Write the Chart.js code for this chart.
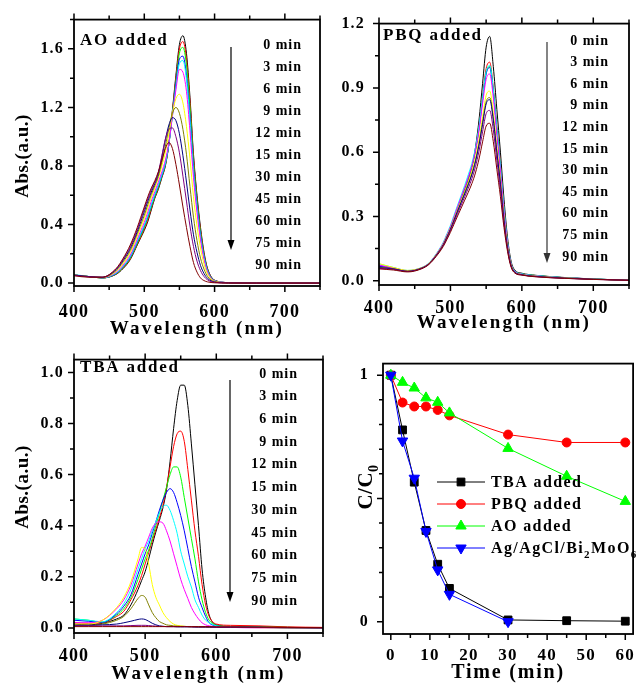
<!DOCTYPE html>
<html>
<head>
<meta charset="utf-8">
<script src="https://cdn.jsdelivr.net/npm/chart.js@4.4.0/dist/chart.umd.min.js"></script>
<style>
  html, body { margin: 0; padding: 0; background: #fff; }
  body { width: 639px; height: 683px; overflow: hidden; position: relative; }
  .panel { position: absolute; }
</style>
</head>
<body>
<div class="panel" style="left:0;top:0;width:336px;height:340px"><canvas id="aoChart"></canvas></div>
<div class="panel" style="left:336px;top:0;width:306px;height:340px"><canvas id="pbqChart"></canvas></div>
<div class="panel" style="left:0;top:340px;width:336px;height:343px"><canvas id="tbaChart"></canvas></div>
<div class="panel" style="left:336px;top:340px;width:309px;height:343px"><canvas id="kinChart"></canvas></div>
<script>
// wavelength grid (nm) shared by all spectra
const wavelengths = [400,420,440,460,470,480,490,495,500,505,510,515,520,525,530,535,540,545,550,555,560,565,570,575,580,585,590,600,620,660,700,750];
const timeLabels = ["0 min","3 min","6 min","9 min","12 min","15 min","30 min","45 min","60 min","75 min","90 min"];

// AO added, one row per irradiation time
const aoSpectra = [
  [.055,.045,.035,.060,.100,.160,.260,.310,.360,.420,.500,.580,.640,.720,.800,.950,1.18,1.42,1.63,1.69,1.57,1.27,.880,.600,.380,.210,.100,.020,.003,0,0,0],
  [.055,.045,.035,.062,.104,.165,.265,.315,.370,.430,.510,.585,.650,.725,.805,.950,1.17,1.40,1.60,1.65,1.53,1.24,.860,.580,.360,.200,.095,.020,.003,0,0,0],
  [.055,.045,.035,.064,.108,.170,.272,.325,.380,.445,.520,.590,.655,.730,.810,.950,1.16,1.38,1.57,1.61,1.49,1.20,.830,.560,.345,.190,.090,.018,.003,0,0,0],
  [.055,.045,.036,.066,.112,.176,.280,.335,.390,.455,.530,.600,.665,.735,.815,.950,1.15,1.36,1.53,1.55,1.42,1.14,.790,.530,.325,.180,.085,.017,.003,0,0,0],
  [.058,.046,.036,.068,.115,.180,.285,.340,.395,.460,.535,.605,.670,.740,.820,.950,1.14,1.34,1.50,1.52,1.39,1.11,.770,.515,.315,.175,.082,.016,.003,0,0,0],
  [.055,.045,.037,.074,.124,.192,.300,.358,.415,.485,.560,.625,.690,.760,.840,.960,1.14,1.32,1.46,1.44,1.31,1.04,.720,.480,.295,.160,.075,.015,.003,0,0,0],
  [.055,.045,.038,.080,.134,.208,.320,.380,.440,.515,.585,.650,.715,.800,.895,1.02,1.16,1.26,1.29,1.23,1.07,.850,.590,.390,.240,.130,.062,.013,.002,0,0,0],
  [.055,.045,.039,.086,.145,.222,.337,.400,.462,.537,.605,.665,.730,.825,.935,1.06,1.16,1.20,1.16,1.05,.880,.660,.450,.290,.170,.095,.045,.010,.002,0,0,0],
  [.055,.045,.040,.092,.155,.236,.352,.420,.487,.560,.622,.680,.748,.860,.980,1.08,1.13,1.11,1.02,.870,.690,.500,.330,.210,.120,.065,.032,.007,.001,0,0,0],
  [.052,.043,.040,.096,.162,.248,.366,.435,.505,.575,.637,.690,.757,.870,.985,1.05,1.06,1.00,.890,.730,.560,.390,.250,.150,.085,.045,.022,.005,.001,0,0,0],
  [.050,.040,.040,.100,.170,.260,.380,.450,.520,.590,.650,.700,.760,.840,.920,.960,.920,.810,.670,.520,.380,.250,.140,.075,.035,.017,.008,.002,0,0,0,0]
];

// PBQ added
const pbqSpectra = [
  [.070,.060,.045,.060,.080,.120,.170,.205,.240,.285,.330,.375,.420,.470,.530,.620,.750,.920,1.09,1.14,1.00,.800,.600,.380,.200,.090,.050,.035,.025,.015,.008,.002],
  [.065,.058,.045,.060,.080,.120,.172,.208,.245,.290,.335,.380,.425,.475,.530,.610,.720,.860,.990,1.02,.900,.720,.540,.340,.180,.080,.045,.032,.024,.014,.008,.002],
  [.066,.058,.045,.060,.080,.120,.172,.208,.245,.290,.335,.380,.425,.475,.530,.605,.710,.850,.970,1.00,.890,.710,.530,.335,.178,.079,.045,.032,.024,.014,.008,.002],
  [.068,.059,.046,.060,.081,.122,.175,.212,.250,.295,.340,.385,.430,.480,.535,.610,.710,.845,.965,.995,.880,.700,.525,.330,.175,.078,.044,.031,.023,.014,.008,.002],
  [.078,.062,.048,.062,.083,.125,.180,.218,.258,.305,.352,.398,.445,.495,.548,.620,.720,.855,.975,1.005,.890,.710,.530,.335,.178,.079,.045,.032,.024,.014,.008,.002],
  [.072,.060,.047,.061,.082,.123,.176,.213,.252,.298,.345,.390,.435,.482,.535,.605,.700,.825,.940,.965,.855,.680,.510,.320,.170,.076,.043,.030,.022,.013,.007,.002],
  [.080,.062,.048,.061,.081,.121,.172,.208,.245,.288,.332,.375,.418,.462,.512,.575,.660,.765,.865,.885,.785,.625,.470,.295,.158,.072,.041,.029,.021,.013,.007,.002],
  [.062,.056,.044,.059,.079,.118,.168,.203,.240,.282,.325,.367,.410,.452,.500,.560,.640,.740,.835,.855,.760,.605,.455,.285,.153,.070,.040,.028,.020,.012,.007,.002],
  [.060,.055,.044,.059,.079,.118,.168,.203,.240,.282,.324,.365,.405,.448,.495,.555,.633,.730,.825,.845,.750,.598,.450,.282,.152,.069,.040,.028,.020,.012,.007,.002],
  [.058,.053,.043,.058,.078,.116,.165,.198,.234,.274,.314,.353,.392,.432,.476,.532,.605,.695,.780,.795,.705,.562,.423,.266,.144,.066,.038,.027,.019,.011,.006,.002],
  [.055,.050,.041,.056,.076,.113,.160,.192,.226,.264,.302,.339,.376,.413,.453,.503,.568,.648,.722,.735,.650,.520,.392,.248,.136,.063,.036,.026,.018,.011,.006,.002]
];

// TBA added
const tbaSpectra = [
  [.015,.012,.018,.035,.050,.090,.150,.185,.220,.270,.325,.375,.420,.470,.540,.650,.780,.890,.950,.950,.870,.720,.560,.400,.230,.120,.050,.012,.006,.004,.002,0],
  [.020,.018,.020,.045,.065,.110,.167,.205,.250,.295,.340,.385,.430,.480,.550,.630,.710,.760,.770,.730,.620,.500,.380,.280,.170,.090,.045,.015,.010,.008,.004,.002],
  [.035,.030,.022,.050,.075,.120,.190,.230,.270,.305,.350,.400,.450,.500,.550,.600,.630,.630,.590,.510,.430,.350,.270,.180,.110,.060,.030,.010,.005,.003,.002,0],
  [.030,.026,.022,.055,.085,.130,.210,.250,.290,.325,.370,.415,.460,.500,.530,.545,.530,.490,.440,.380,.310,.240,.180,.120,.080,.045,.020,.008,.004,.002,0,0],
  [.035,.030,.024,.060,.095,.150,.230,.270,.310,.340,.380,.415,.450,.475,.480,.460,.420,.370,.300,.250,.200,.160,.110,.080,.050,.030,.020,.008,.004,.002,0,0],
  [.020,.020,.030,.075,.110,.167,.250,.290,.320,.355,.390,.410,.415,.410,.380,.340,.290,.240,.190,.150,.115,.080,.055,.035,.020,.012,.008,.004,.002,0,0,0],
  [.015,.015,.030,.080,.120,.180,.270,.315,.310,.250,.170,.120,.090,.060,.040,.025,.015,.010,.008,.006,.005,.004,.004,.003,.003,.003,.002,.002,.002,.001,0,0],
  [.010,.010,.015,.030,.045,.075,.115,.127,.120,.090,.060,.040,.025,.018,.012,.010,.008,.007,.006,.006,.005,.005,.005,.004,.004,.004,.003,.003,.003,.002,.001,0],
  [.010,.010,.012,.015,.020,.026,.033,.035,.033,.026,.018,.012,.008,.006,.005,.005,.005,.004,.004,.004,.004,.004,.003,.003,.003,.003,.003,.002,.002,.002,.001,0],
  [.008,.008,.008,.008,.008,.009,.010,.010,.010,.009,.008,.007,.006,.006,.005,.005,.005,.005,.005,.005,.005,.004,.004,.004,.004,.004,.004,.003,.003,.002,.001,0],
  [.005,.005,.005,.005,.005,.005,.005,.005,.005,.005,.005,.005,.005,.005,.005,.005,.005,.005,.005,.005,.005,.005,.005,.005,.005,.005,.005,.004,.004,.003,.002,.001]
];

// degradation kinetics, C/C0
const kineticTimes = [0,3,6,9,12,15,30,45,60];
const tbaRatio = [1,0.778,0.566,0.37,0.233,0.135,0.007,0.004,0.002];
const pbqRatio = [1,0.889,0.873,0.873,0.859,0.837,0.759,0.727,0.727];
const aoRatio = [1,0.971,0.948,0.908,0.89,0.847,0.703,0.59,0.488];
const catalystRatio = [1,0.733,0.582,0.366,0.21,0.111,0.0];
const kineticNames = ["TBA added","PBQ added","AO added","Ag/AgCl/Bi2MoO6"];

const curveColors = ["#000000","#ff0000","#00ff00","#0000ff","#00ffff","#ff00ff","#ffff00","#808000","#000080","#800080","#800000"];
const FONT = "'Liberation Serif','Times New Roman',serif";

Chart.defaults.font.family = FONT;
Chart.defaults.font.weight = "bold";
Chart.defaults.color = "#000";
Chart.defaults.animation = false;

function isMajor(v, step) {
  const r = v / step;
  return Math.abs(r - Math.round(r)) < 1e-6;
}

function drawText(ctx, str, x, y, size, spacing, align) {
  ctx.font = "bold " + size + "px " + FONT;
  ctx.letterSpacing = spacing + "px";
  ctx.textAlign = align;
  ctx.textBaseline = "middle";
  ctx.fillText(str, x, y);
}

// digits that follow a letter are drawn as subscripts (C0, Bi2, O6)
function drawRich(ctx, str, x, y, size, spacing, align) {
  const segs = [];
  for (let i = 0; i < str.length; i++) {
    const ch = str[i];
    const sub = /\d/.test(ch) && i > 0 && /[A-Za-z]/.test(str[i - 1]);
    if (segs.length && segs[segs.length - 1].sub === sub) segs[segs.length - 1].t += ch;
    else segs.push({ t: ch, sub: sub });
  }
  const fontFor = s => "bold " + (s.sub ? Math.round(size * 0.68) : size) + "px " + FONT;
  ctx.letterSpacing = spacing + "px";
  ctx.textAlign = "left";
  ctx.textBaseline = "alphabetic";
  let total = 0;
  segs.forEach(s => { ctx.font = fontFor(s); s.w = ctx.measureText(s.t).width; total += s.w; });
  let cx = align === "center" ? x - total / 2 : align === "right" ? x - total : x;
  const base = y + size * 0.33;
  segs.forEach(s => {
    ctx.font = fontFor(s);
    ctx.fillText(s.t, cx, base + (s.sub ? size * 0.3 : 0));
    cx += s.w;
  });
}

function drawMarker(ctx, style, rotation, x, y, r, color) {
  ctx.fillStyle = color;
  ctx.strokeStyle = color;
  ctx.lineWidth = 1;
  ctx.beginPath();
  if (style === "rect") {
    const s = r * Math.SQRT1_2;
    ctx.rect(x - s, y - s, 2 * s, 2 * s);
  } else if (style === "circle") {
    ctx.arc(x, y, r, 0, Math.PI * 2);
  } else {
    let rad = (rotation || 0) * Math.PI / 180;
    ctx.moveTo(x + Math.sin(rad) * r, y - Math.cos(rad) * r);
    rad += Math.PI * 2 / 3;
    ctx.lineTo(x + Math.sin(rad) * r, y - Math.cos(rad) * r);
    rad += Math.PI * 2 / 3;
    ctx.lineTo(x + Math.sin(rad) * r, y - Math.cos(rad) * r);
    ctx.closePath();
  }
  ctx.fill();
  ctx.stroke();
}

function decoPlugin(d) {
  return {
    id: "deco",
    beforeDraw(chart) {
      chart.ctx.letterSpacing = "1.2px";
    },
    afterDraw(chart) {
      const ctx = chart.ctx;
      const a = chart.chartArea;
      const xs = chart.scales.x, ys = chart.scales.y;
      ctx.save();
      ctx.letterSpacing = "0px";
      ctx.strokeStyle = "#000";
      ctx.lineWidth = 1.8;
      ctx.strokeRect(a.left, a.top, a.right - a.left, a.bottom - a.top);
      ctx.lineWidth = 1.5;
      ctx.beginPath();
      xs.ticks.forEach(t => {
        const px = xs.getPixelForValue(t.value);
        const len = isMajor(t.value, d.xMajor) ? 6 : 4;
        ctx.moveTo(px, a.bottom);
        ctx.lineTo(px, a.bottom + len);
        if (d.topTicks) {
          ctx.moveTo(px, a.top);
          ctx.lineTo(px, a.top - len);
        }
      });
      ys.ticks.forEach(t => {
        const py = ys.getPixelForValue(t.value);
        const len = isMajor(t.value, d.yMajor) ? 6 : 4;
        ctx.moveTo(a.left, py);
        ctx.lineTo(a.left - len, py);
      });
      ctx.stroke();

      ctx.fillStyle = "#000";
      drawText(ctx, d.xTitle, (a.left + a.right) / 2, d.xTitleY, d.xTitleSize, d.xTitleSpacing, "center");
      if (d.yTitle) {
        ctx.save();
        ctx.translate(d.yTitleX, d.yTitleY);
        ctx.rotate(-Math.PI / 2);
        ctx.fillStyle = "#000";
        drawRich(ctx, d.yTitle, 0, 0, d.yTitleSize, 0.5, "center");
        ctx.restore();
      }
      if (d.tag) {
        ctx.font = "bold 17px " + FONT;
        ctx.letterSpacing = "1.8px";
        ctx.textAlign = "left";
        ctx.textBaseline = "alphabetic";
        ctx.fillText(d.tag, d.tagX, d.tagY);
      }
      if (d.times) {
        timeLabels.forEach((t, i) => drawText(ctx, t, d.times.x, d.times.y0 + i * d.times.dy, 14, 1, "right"));
        const ar = d.arrow;
        ctx.strokeStyle = ar.color;
        ctx.fillStyle = ar.color;
        ctx.lineWidth = 1.2;
        ctx.beginPath();
        ctx.moveTo(ar.x, ar.y1);
        ctx.lineTo(ar.x, ar.y2 - 8);
        ctx.stroke();
        ctx.beginPath();
        ctx.moveTo(ar.x - 3.5, ar.y2 - 10);
        ctx.lineTo(ar.x + 3.5, ar.y2 - 10);
        ctx.lineTo(ar.x, ar.y2);
        ctx.closePath();
        ctx.fill();
      }
      if (d.legend) {
        const lg = d.legend;
        chart.data.datasets.forEach((ds, i) => {
          const y = lg.y0 + i * lg.dy;
          ctx.strokeStyle = ds.borderColor;
          ctx.lineWidth = 1;
          ctx.beginPath();
          ctx.moveTo(lg.x1, y);
          ctx.lineTo(lg.x2, y);
          ctx.stroke();
          drawMarker(ctx, ds.pointStyle, ds.pointRotation, (lg.x1 + lg.x2) / 2, y, ds.pointRadius, ds.borderColor);
          ctx.fillStyle = "#000";
          drawRich(ctx, ds.label, lg.textX, y, 16, 1.4, "left");
        });
      }
      ctx.restore();
    }
  };
}

function axisOptions(o) {
  return {
    type: "linear",
    min: o.min,
    max: o.max,
    grid: { display: false, drawTicks: false },
    border: { display: false },
    afterFit: o.fit,
    ticks: {
      stepSize: o.step,
      includeBounds: false,
      autoSkip: false,
      maxRotation: 0,
      padding: o.padding,
      font: { size: o.size, weight: "bold" },
      callback: v => isMajor(v, o.major) ? o.fmt(v) : ""
    }
  };
}

function spectrumChart(id, spectra, p) {
  const datasets = spectra.map((row, i) => ({
    label: timeLabels[i],
    data: wavelengths.map((w, j) => ({ x: w, y: row[j] })),
    borderColor: curveColors[i],
    borderWidth: 1,
    pointRadius: 0,
    fill: false,
    cubicInterpolationMode: "monotone",
    order: -i
  }));
  return new Chart(document.getElementById(id), {
    type: "line",
    data: { datasets: datasets },
    options: {
      responsive: true,
      maintainAspectRatio: false,
      animation: false,
      layout: { padding: { top: p.top, right: p.right, left: 0, bottom: 0 } },
      plugins: { legend: { display: false }, tooltip: { enabled: false } },
      scales: {
        x: axisOptions({ min: 400, max: 750, step: 50, major: 100, size: 18, padding: p.xPad,
          fmt: v => String(v), fit: s => { s.height = p.xHeight; } }),
        y: axisOptions({ min: -0.02, max: p.yMax, step: p.yStep, major: p.yMajor, size: 16, padding: p.yPad,
          fmt: v => v.toFixed(1), fit: s => { s.width = p.yWidth; } })
      }
    },
    plugins: [decoPlugin(p.deco)]
  });
}

spectrumChart("aoChart", aoSpectra, {
  top: 17, right: 3, xHeight: 54, yWidth: 74, xPad: 16, yPad: 10,
  yMax: 1.8, yStep: 0.2, yMajor: 0.4,
  deco: {
    xMajor: 100, yMajor: 0.4, topTicks: true,
    xTitle: "Wavelength (nm)", xTitleY: 329, xTitleSize: 19, xTitleSpacing: 2.3,
    yTitle: "Abs.(a.u.)", yTitleX: 22, yTitleY: 156, yTitleSize: 19,
    tag: "AO added", tagX: 80, tagY: 45,
    times: { x: 302, y0: 45, dy: 22 },
    arrow: { x: 231, y1: 47, y2: 250, color: "#000" }
  }
});

spectrumChart("pbqChart", pbqSpectra, {
  top: 17, right: 2, xHeight: 55, yWidth: 43, xPad: 13, yPad: 14,
  yMax: 1.2, yStep: 0.15, yMajor: 0.3,
  deco: {
    xMajor: 100, yMajor: 0.3, topTicks: true,
    xTitle: "Wavelength (nm)", xTitleY: 323, xTitleSize: 19, xTitleSpacing: 2.3,
    tag: "PBQ added", tagX: 47, tagY: 40,
    times: { x: 273, y0: 41, dy: 21.6 },
    arrow: { x: 211, y1: 42, y2: 263, color: "#333" }
  }
});

spectrumChart("tbaChart", tbaSpectra, {
  top: 12, right: 3, xHeight: 50, yWidth: 74, xPad: 13, yPad: 10,
  yMax: 1.05, yStep: 0.1, yMajor: 0.2,
  deco: {
    xMajor: 100, yMajor: 0.2, topTicks: true,
    xTitle: "Wavelength (nm)", xTitleY: 334, xTitleSize: 19, xTitleSpacing: 2.3,
    yTitle: "Abs.(a.u.)", yTitleX: 22, yTitleY: 147, yTitleSize: 19,
    tag: "TBA added", tagX: 80, tagY: 32,
    times: { x: 298, y0: 34, dy: 22.7 },
    arrow: { x: 230, y1: 40, y2: 262, color: "#000" }
  }
});

// kinetics panel
const kinSeries = [
  { values: tbaRatio, color: "#000000", style: "rect", radius: 5.5, rotation: 0, order: 3 },
  { values: pbqRatio, color: "#ff0000", style: "circle", radius: 4.5, rotation: 0, order: 2 },
  { values: aoRatio, color: "#00ff00", style: "triangle", radius: 6, rotation: 0, order: 1 },
  { values: catalystRatio, color: "#0000ff", style: "triangle", radius: 6, rotation: 180, order: 0 }
];

new Chart(document.getElementById("kinChart"), {
  type: "line",
  data: {
    datasets: kinSeries.map((s, i) => ({
      label: kineticNames[i],
      data: s.values.map((v, j) => ({ x: kineticTimes[j], y: v })),
      borderColor: s.color,
      backgroundColor: s.color,
      borderWidth: 1,
      tension: 0,
      pointStyle: s.style,
      pointRotation: s.rotation,
      pointRadius: s.radius,
      pointBorderWidth: 1,
      pointBackgroundColor: s.color,
      pointBorderColor: s.color,
      order: s.order,
      clip: false
    }))
  },
  options: {
    responsive: true,
    maintainAspectRatio: false,
    animation: false,
    layout: { padding: { top: 14, right: 2, left: 0, bottom: 0 } },
    plugins: { legend: { display: false }, tooltip: { enabled: false } },
    scales: {
      x: axisOptions({ min: -2, max: 62, step: 5, major: 10, size: 17, padding: 11,
        fmt: v => String(v), fit: s => { s.height = 49; } }),
      y: axisOptions({ min: -0.05, max: 1.047, step: 0.1, major: 1, size: 16, padding: 14,
        fmt: v => String(Math.round(v)), fit: s => { s.width = 47; } })
    }
  },
  plugins: [decoPlugin({
    xMajor: 10, yMajor: 0.5, topTicks: false,
    xTitle: "Time (min)", xTitleY: 333, xTitleSize: 20, xTitleSpacing: 1.8,
    yTitle: "C/C0", yTitleX: 29, yTitleY: 147, yTitleSize: 21,
    legend: { x1: 101, x2: 149, textX: 155, y0: 142, dy: 22 }
  })]
});
</script>
</body>
</html>
